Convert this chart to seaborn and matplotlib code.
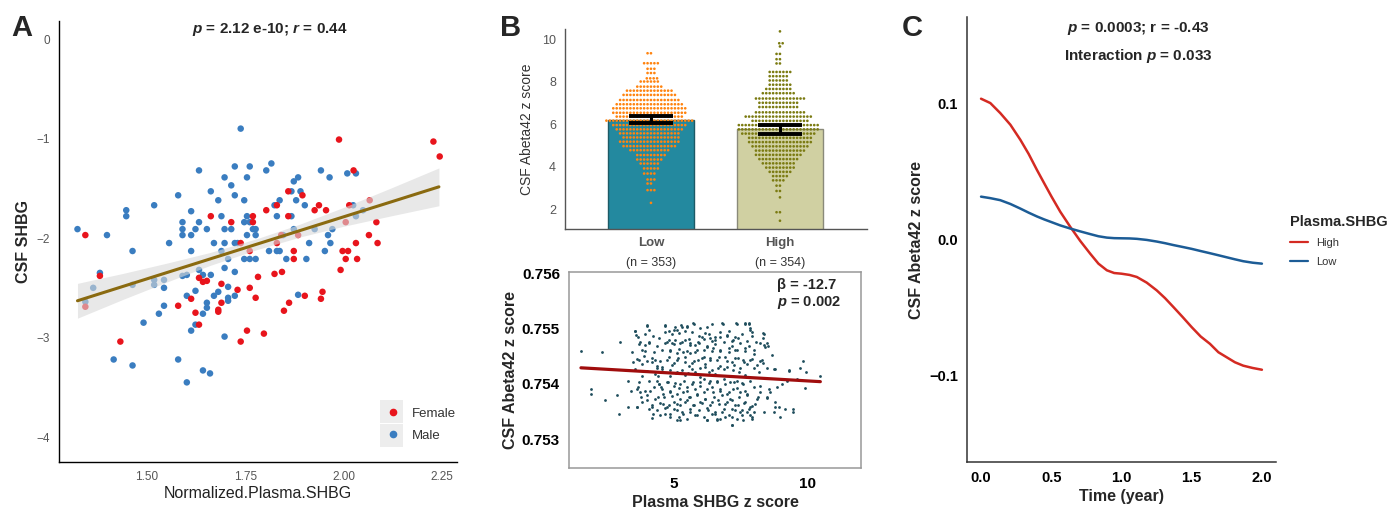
import numpy as np
import pandas as pd
import matplotlib
matplotlib.use("Agg")
import matplotlib.pyplot as plt
import seaborn as sns
from matplotlib.lines import Line2D
from matplotlib.patches import Rectangle

sns.set_style("white")
plt.rcParams["font.family"] = ["Liberation Sans", "DejaVu Sans"]
plt.rcParams["mathtext.fontset"] = "custom"
plt.rcParams["mathtext.rm"] = "Liberation Sans"
plt.rcParams["mathtext.it"] = "Liberation Sans:italic"
plt.rcParams["mathtext.bf"] = "Liberation Sans:bold"
plt.rcParams["mathtext.bfit"] = "Liberation Sans:bold:italic"

# -----------------------------
# Panel A data
# -----------------------------
male_x = [1.323, 1.398, 1.380, 1.363, 1.343, 1.447, 1.447, 1.463, 1.463, 1.518, 1.518, 1.518,
          1.543, 1.543, 1.543, 1.530, 1.491, 1.556, 1.579, 1.590, 1.590, 1.590, 1.590, 1.601,
          1.612, 1.612, 1.612, 1.623, 1.632, 1.632, 1.632, 1.623, 1.601, 1.612, 1.623, 1.579,
          1.601, 1.642, 1.660, 1.463, 1.415, 1.642, 1.642, 1.652, 1.652, 1.652, 1.662, 1.662,
          1.670, 1.670, 1.681, 1.681, 1.689, 1.689, 1.697, 1.697, 1.697, 1.697, 1.697, 1.706,
          1.706, 1.706, 1.706, 1.714, 1.714, 1.723, 1.723, 1.723, 1.723, 1.723, 1.730, 1.738,
          1.747, 1.747, 1.747, 1.754, 1.754, 1.754, 1.761, 1.761, 1.761, 1.769, 1.776, 1.776,
          1.776, 1.803, 1.816, 1.810, 1.830, 1.830, 1.837, 1.837, 1.824, 1.854, 1.867, 1.867,
          1.873, 1.873, 1.884, 1.879, 1.890, 1.901, 1.884, 1.905, 1.912, 1.926, 1.942, 1.952,
          1.960, 1.964, 1.966, 1.971, 2.009, 2.024, 2.031, 2.031, 2.049, 1.846]
male_y = [-1.91, -1.97, -2.35, -2.50, -2.64, -1.72, -1.78, -2.13, -2.47, -1.67, -2.42, -2.47,
          -2.42, -2.50, -2.68, -2.76, -2.85, -2.05, -1.57, -1.84, -1.91, -1.97, -2.38, -2.37,
          -1.73, -1.97, -2.13, -1.91, -1.32, -1.84, -2.32, -2.53, -2.58, -2.93, -2.87, -3.22,
          -3.45, -3.33, -3.36, -3.28, -3.22, -2.37, -2.76, -1.91, -2.65, -2.70, -2.37, -1.53,
          -2.05, -2.58, -1.62, -2.54, -1.78, -2.13, -1.39, -1.91, -2.05, -2.30, -2.99, -2.21,
          -2.49, -2.60, -2.63, -1.47, -1.91, -1.28, -1.57, -2.05, -2.34, -2.58, -2.05, -0.90,
          -1.62, -1.84, -2.21, -1.39, -1.78, -1.97, -1.28, -1.84, -2.21, -1.91, -1.91, -1.97,
          -2.21, -1.32, -1.25, -2.13, -1.78, -2.13, -1.62, -2.13, -1.67, -2.21, -1.53, -1.78,
          -1.43, -1.91, -1.39, -1.62, -1.53, -1.67, -2.57, -2.21, -2.05, -1.91, -1.32, -2.13,
          -1.97, -1.39, -2.05, -1.91, -1.35, -1.67, -1.35, -1.78, -1.72, -1.97]
female_x = [1.343, 1.380, 1.343, 1.432, 1.579, 1.612, 1.623, 1.632, 1.632, 1.642, 1.652, 1.662,
            1.681, 1.681, 1.689, 1.689, 1.714, 1.730, 1.738, 1.738, 1.754, 1.761, 1.761, 1.769,
            1.769, 1.776, 1.782, 1.797, 1.803, 1.824, 1.830, 1.830, 1.841, 1.843, 1.848, 1.859,
            1.859, 1.861, 1.873, 1.873, 1.884, 1.895, 1.901, 1.926, 1.937, 1.955, 1.942, 1.946,
            1.988, 1.992, 1.997, 2.005, 2.005, 2.011, 2.014, 2.025, 2.031, 2.034, 2.066, 2.064,
            2.083, 2.086, 2.228, 2.244]
female_y = [-1.97, -2.38, -2.69, -3.04, -2.68, -2.61, -2.75, -2.87, -2.40, -2.44, -2.43, -1.78,
            -2.72, -2.74, -2.46, -2.65, -1.84, -2.52, -2.05, -3.04, -2.93, -2.13, -2.50, -1.78,
            -1.84, -2.60, -2.39, -2.96, -1.72, -2.36, -1.67, -2.05, -1.97, -2.34, -2.73, -1.53,
            -1.78, -2.65, -2.13, -2.21, -1.97, -1.57, -2.58, -1.72, -1.67, -1.72, -2.61, -2.54,
            -1.01, -2.32, -2.13, -1.84, -2.21, -2.13, -1.67, -1.32, -2.05, -2.21, -1.62, -1.97,
            -1.84, -2.05, -1.03, -1.18]
fit_x = [1.323, 1.44, 1.55, 1.66, 1.78, 1.89, 2.00, 2.12, 2.242]
fit_y = [-2.63, -2.484, -2.347, -2.21, -2.06, -1.923, -1.786, -1.637, -1.485]
fit_lo = [-2.805, -2.614, -2.442, -2.275, -2.115, -1.988, -1.881, -1.777, -1.675]
fit_hi = [-2.455, -2.354, -2.252, -2.145, -2.005, -1.858, -1.691, -1.497, -1.295]

# -----------------------------
# Panel B (top) data: swarm rows (value level, number of dots)
# -----------------------------
low_levels = [9.33, 8.86, 8.6, 8.4, 8.15, 8.0, 7.76, 7.57, 7.37, 7.13, 6.93, 6.74, 6.53, 6.35,
              6.16, 5.95, 5.75, 5.56, 5.37, 5.17, 4.96, 4.77, 4.54, 4.33, 4.14, 3.91, 3.67,
              3.39, 3.2, 2.89, 2.29]
low_counts = [2, 5, 3, 3, 4, 6, 8, 14, 16, 18, 20, 22, 22, 20, 26, 22, 20, 18, 17, 18, 16, 12,
              9, 8, 6, 5, 4, 3, 2, 3, 1]
high_levels = [10.36, 9.8, 9.65, 9.3, 9.05, 8.85, 8.45, 8.25, 8.05, 7.85, 7.65, 7.45, 7.2, 7.0,
               6.8, 6.55, 6.35, 6.15, 5.95, 5.75, 5.55, 5.35, 5.15, 4.95, 4.75, 4.55, 4.35,
               4.15, 3.95, 3.75, 3.55, 3.35, 3.1, 2.85, 2.55, 1.85, 1.45]
high_counts = [1, 2, 1, 2, 2, 2, 7, 6, 6, 7, 8, 10, 15, 12, 12, 15, 20, 17, 24, 24, 22, 19, 19,
               17, 15, 14, 12, 10, 9, 7, 5, 4, 2, 2, 1, 2, 1]
groups = ["Low", "High"]
group_n = [353, 354]
bar_means = [6.19, 5.75]
err_lo = [6.06, 5.54]
err_hi = [6.39, 5.94]

# -----------------------------
# Panel B (bottom) data
# -----------------------------
# outer / sparse part of the cloud
scat_x = [1.50, 2.28, 2.97, 1.87, 1.87, 2.41, 2.94, 3.25, 3.41, 3.45, 2.84, 3.28, 3.38, 3.60,
          3.53, 3.56, 3.72, 4.00, 4.07, 3.91, 4.07, 3.80, 3.70, 3.97, 4.16, 3.66, 3.72, 3.75,
          3.97, 4.10, 4.16, 4.22, 4.35, 4.41, 4.45, 4.29, 4.35, 4.54, 4.50, 4.60, 4.41, 4.60,
          4.66, 4.72, 4.85, 4.66, 4.82, 4.98, 5.10, 5.29, 5.50, 5.73, 4.72, 4.91, 5.04, 5.23,
          5.41, 5.60, 5.79, 5.91, 4.85, 5.10, 5.35, 5.60, 5.85, 4.72, 4.98, 5.16, 5.41, 5.66,
          5.91, 4.85, 5.07, 5.29, 5.54, 5.79, 5.98, 4.79, 4.98, 5.23, 5.48, 5.73, 5.98, 4.85,
          5.10, 5.35, 5.60, 5.85, 4.98, 5.23, 5.48, 5.73, 5.98, 5.10, 5.35, 5.60, 5.85, 5.23,
          5.48, 6.04,
          6.82, 7.33, 7.67, 7.80, 7.86, 7.92, 8.36, 8.36, 8.24, 8.49, 8.55, 8.67, 7.99, 7.67,
          7.61, 7.86, 8.30, 8.36, 8.11, 8.49, 8.80, 9.34, 9.74, 9.97, 9.83, 9.05, 9.24, 9.61,
          9.93, 10.49, 9.05, 8.86, 8.61, 8.49, 8.80, 8.93, 8.74, 8.99, 8.24, 8.17, 8.05, 7.86,
          7.99, 7.92, 9.49, 9.49, 7.17, 6.42, 6.17, 6.36, 6.54, 6.73, 6.98, 7.23, 7.42, 6.23,
          6.48, 6.73, 7.05, 7.30, 6.11, 6.36, 6.61, 6.92, 7.17, 7.42, 6.17, 6.42, 6.67, 6.98,
          7.23, 7.48, 6.11, 6.36, 6.61, 6.86, 7.11, 7.36, 7.61, 6.23, 6.48, 6.73, 6.98, 7.23,
          7.48, 7.73, 6.17, 6.42, 6.67, 6.92, 7.17, 7.42, 7.67, 6.29, 6.54, 6.79, 7.05, 7.30,
          7.55, 6.23, 6.61, 6.92, 7.36, 7.61, 7.73, 7.55]
scat_y = [0.75460, 0.75458, 0.75475, 0.75390, 0.75382, 0.75371, 0.75346, 0.75358, 0.75458,
          0.75440, 0.75380, 0.75406, 0.75387, 0.75359, 0.75496, 0.75488, 0.75476, 0.75505,
          0.75497, 0.75470, 0.75476, 0.75461, 0.75443, 0.75441, 0.75440, 0.75394, 0.75385,
          0.75376, 0.75371, 0.75387, 0.75358, 0.75346, 0.75406, 0.75415, 0.75400, 0.75443,
          0.75428, 0.75431, 0.75394, 0.75382, 0.75376, 0.75364, 0.75346, 0.75358, 0.75340,
          0.75504, 0.75496, 0.75497, 0.75498, 0.75503, 0.75503, 0.75510, 0.75476, 0.75473,
          0.75479, 0.75473, 0.75479, 0.75473, 0.75470, 0.75476, 0.75461, 0.75455, 0.75458,
          0.75455, 0.75461, 0.75443, 0.75437, 0.75446, 0.75440, 0.75437, 0.75443, 0.75425,
          0.75420, 0.75425, 0.75419, 0.75422, 0.75428, 0.75403, 0.75397, 0.75400, 0.75394,
          0.75403, 0.75397, 0.75388, 0.75382, 0.75385, 0.75376, 0.75382, 0.75367, 0.75361,
          0.75370, 0.75361, 0.75367, 0.75352, 0.75346, 0.75349, 0.75343, 0.75334, 0.75337,
          0.75485,
          0.75510, 0.75510, 0.75510, 0.75510, 0.75497, 0.75494, 0.75491, 0.75483, 0.75473,
          0.75474, 0.75468, 0.75452, 0.75461, 0.75464, 0.75443, 0.75443, 0.75443, 0.75437,
          0.75434, 0.75428, 0.75426, 0.75425, 0.75428, 0.75422, 0.75441, 0.75409, 0.75406,
          0.75409, 0.75392, 0.75415, 0.75400, 0.75394, 0.75385, 0.75376, 0.75367, 0.75358,
          0.75349, 0.75341, 0.75385, 0.75376, 0.75364, 0.75358, 0.75349, 0.75340, 0.75354,
          0.75350, 0.75325, 0.75509, 0.75491, 0.75482, 0.75479, 0.75485, 0.75488, 0.75479,
          0.75482, 0.75467, 0.75464, 0.75461, 0.75464, 0.75461, 0.75449, 0.75446, 0.75443,
          0.75449, 0.75440, 0.75446, 0.75431, 0.75425, 0.75428, 0.75431, 0.75425, 0.75428,
          0.75409, 0.75406, 0.75403, 0.75409, 0.75403, 0.75406, 0.75400, 0.75391, 0.75385,
          0.75388, 0.75382, 0.75391, 0.75385, 0.75382, 0.75373, 0.75367, 0.75370, 0.75364,
          0.75370, 0.75361, 0.75367, 0.75352, 0.75346, 0.75349, 0.75343, 0.75352, 0.75343,
          0.75334, 0.75334, 0.75340, 0.75337, 0.75334, 0.75349, 0.75352]
# dense core of the cloud
core_x = [3.98, 4.67, 5.05, 5.27, 5.49, 5.74, 5.99, 6.24, 6.83, 7.05, 7.37, 7.66, 7.81, 7.87,
          8.37, 3.55, 3.92, 4.20, 4.65, 4.92, 5.17, 5.42, 5.68, 5.93, 6.30, 6.55, 6.74, 6.99,
          7.30, 7.56, 7.93, 3.65, 4.42, 4.80, 5.55, 6.11, 6.43, 7.18, 7.74,
          3.67, 4.05, 4.36, 4.67, 4.99, 5.30, 5.61, 5.93, 6.24, 6.55, 6.87, 7.18, 7.49, 7.81,
          8.08, 8.37, 3.92, 4.23, 4.55, 4.86, 5.17, 5.49, 5.80, 6.11, 6.43, 6.74, 7.05, 7.37,
          7.68, 7.99, 8.43, 3.61, 3.86, 4.17, 4.49, 4.80, 5.11, 5.42, 5.74, 6.05, 6.36, 6.68,
          6.99, 7.30, 7.62, 7.93, 8.24, 3.80, 4.36, 4.92, 5.55, 6.18, 6.74, 7.24, 7.74, 8.75,
          3.55, 3.98, 4.55, 5.11, 5.68, 6.30, 6.87, 7.43, 7.99, 3.80, 4.30, 4.86, 5.42, 5.99,
          6.55, 7.12, 7.68, 8.18, 9.31,
          3.67, 4.05, 4.42, 4.74, 5.05, 5.36, 5.68, 5.99, 6.30, 6.62, 6.93, 7.24, 7.56, 7.87,
          8.24, 8.56, 3.61, 3.92, 4.23, 4.55, 4.86, 5.17, 5.49, 5.80, 6.11, 6.43, 6.74, 7.05,
          7.37, 7.68, 7.99, 3.98, 4.30, 4.61, 4.92, 5.24, 5.55, 5.86, 6.18, 6.49, 6.80, 7.12,
          7.43, 7.74, 8.12, 8.50, 3.80, 4.17, 4.49, 4.80, 5.11, 5.42, 5.74, 6.05, 6.36, 6.68,
          6.99, 7.30, 7.62, 7.93, 8.81, 3.61, 4.05, 4.36, 4.67, 4.99, 5.30, 5.61, 5.93, 6.24,
          6.55, 6.87, 7.18, 7.49, 7.81, 9.18, 4.49, 4.86, 5.17, 5.80, 6.11, 6.43, 6.74, 7.18,
          7.87, 8.37, 4.17, 5.11, 6.24, 6.62, 7.18, 7.93]
core_y = [0.75507, 0.75506, 0.75503, 0.75506, 0.75504, 0.75509, 0.75500, 0.75503, 0.75509,
          0.75496, 0.75509, 0.75509, 0.75509, 0.75500, 0.75490, 0.75496, 0.75490, 0.75487,
          0.75494, 0.75490, 0.75492, 0.75495, 0.75494, 0.75487, 0.75490, 0.75484, 0.75494,
          0.75487, 0.75484, 0.75490, 0.75487, 0.75484, 0.75483, 0.75480, 0.75481, 0.75481,
          0.75478, 0.75478, 0.75478,
          0.75472, 0.75474, 0.75469, 0.75474, 0.75472, 0.75475, 0.75471, 0.75474, 0.75469,
          0.75472, 0.75475, 0.75469, 0.75474, 0.75468, 0.75475, 0.75471, 0.75460, 0.75457,
          0.75462, 0.75459, 0.75463, 0.75460, 0.75457, 0.75462, 0.75459, 0.75460, 0.75457,
          0.75462, 0.75459, 0.75454, 0.75466, 0.75445, 0.75450, 0.75446, 0.75442, 0.75448,
          0.75444, 0.75448, 0.75442, 0.75446, 0.75444, 0.75448, 0.75442, 0.75446, 0.75440,
          0.75445, 0.75442, 0.75436, 0.75433, 0.75434, 0.75433, 0.75436, 0.75433, 0.75434,
          0.75436, 0.75427, 0.75427, 0.75424, 0.75426, 0.75422, 0.75427, 0.75421, 0.75426,
          0.75422, 0.75428, 0.75415, 0.75418, 0.75414, 0.75416, 0.75412, 0.75418, 0.75414,
          0.75416, 0.75421, 0.75424,
          0.75403, 0.75406, 0.75400, 0.75404, 0.75402, 0.75406, 0.75400, 0.75404, 0.75402,
          0.75406, 0.75400, 0.75404, 0.75402, 0.75406, 0.75397, 0.75391, 0.75391, 0.75388,
          0.75394, 0.75390, 0.75386, 0.75392, 0.75388, 0.75391, 0.75386, 0.75394, 0.75390,
          0.75386, 0.75392, 0.75388, 0.75394, 0.75379, 0.75373, 0.75376, 0.75378, 0.75373,
          0.75376, 0.75379, 0.75373, 0.75376, 0.75379, 0.75373, 0.75376, 0.75380, 0.75373,
          0.75374, 0.75367, 0.75362, 0.75366, 0.75361, 0.75364, 0.75367, 0.75362, 0.75366,
          0.75361, 0.75364, 0.75367, 0.75362, 0.75366, 0.75360, 0.75358, 0.75358, 0.75355,
          0.75352, 0.75356, 0.75354, 0.75350, 0.75355, 0.75352, 0.75356, 0.75350, 0.75354,
          0.75355, 0.75350, 0.75355, 0.75355, 0.75343, 0.75346, 0.75341, 0.75344, 0.75340,
          0.75346, 0.75337, 0.75340, 0.75343, 0.75349, 0.75338, 0.75334, 0.75335, 0.75337,
          0.75326, 0.75337]
reg_x = [1.5, 10.5]
reg_y = [0.75429, 0.75404]

# -----------------------------
# Panel C data
# -----------------------------
time_yr = [0, 0.066, 0.137, 0.209, 0.28, 0.339, 0.398, 0.450, 0.502, 0.564, 0.635, 0.706,
           0.777, 0.836, 0.896, 0.948, 1.0, 1.057, 1.109, 1.180, 1.251, 1.310, 1.37, 1.436,
           1.5, 1.564, 1.63, 1.690, 1.749, 1.808, 1.867, 1.934, 2.0]
high_curve = [0.1038, 0.1006, 0.0932, 0.0846, 0.0735, 0.0631, 0.0513, 0.0414, 0.0316, 0.0205,
              0.0094, -0.001, -0.0104, -0.0178, -0.0227, -0.0247, -0.0252, -0.0261, -0.0276,
              -0.0318, -0.0375, -0.0432, -0.0498, -0.0572, -0.0646, -0.0715, -0.0769, -0.0831,
              -0.0868, -0.0905, -0.093, -0.0947, -0.096]
low_curve = [0.0316, 0.0305, 0.029, 0.0262, 0.0228, 0.0198, 0.017, 0.0148, 0.0128, 0.0104,
             0.0081, 0.006, 0.004, 0.0024, 0.0014, 0.001, 0.0009, 0.0008, 0.0005, -0.0003,
             -0.0015, -0.0027, -0.0041, -0.0055, -0.0069, -0.0085, -0.0101, -0.0116, -0.0131,
             -0.0146, -0.016, -0.0171, -0.0178]

fig = plt.figure(figsize=(13.98, 5.12), dpi=100)

# -----------------------------
# Panel A
# -----------------------------
axA = fig.add_axes([0.0422, 0.0977, 0.2847, 0.861])
dfA = pd.DataFrame({
    "x": male_x + female_x,
    "y": male_y + female_y,
    "sex": ["Male"] * len(male_x) + ["Female"] * len(female_x),
})
pal_sex = {"Female": "#e8141c", "Male": "#3a7dc0"}
sns.scatterplot(data=dfA, x="x", y="y", hue="sex", palette=pal_sex, s=22,
                linewidth=0, legend=False, ax=axA, zorder=2)
axA.fill_between(fit_x, fit_lo, fit_hi, color="#d9d9d9", alpha=0.6, lw=0, zorder=3)
axA.plot(fit_x, fit_y, color="#8a6a10", lw=2.2, zorder=4)
axA.set_xlim(1.276, 2.288)
axA.set_ylim(-4.25, 0.18)
axA.set_xticks([1.5, 1.75, 2.0, 2.25])
axA.set_xticklabels(["1.50", "1.75", "2.00", "2.25"])
axA.set_yticks([0, -1, -2, -3, -4])
axA.tick_params(colors="#555555", labelsize=8.5, length=3, width=0.8, labelcolor="#555555")
for side in ["top", "right"]:
    axA.spines[side].set_visible(False)
for side in ["left", "bottom"]:
    axA.spines[side].set_color("black")
    axA.spines[side].set_linewidth(1.0)
axA.set_xlabel("Normalized.Plasma.SHBG", fontsize=11.5, color="#222222", labelpad=2)
axA.set_ylabel("CSF SHBG", fontsize=11.5, fontweight="bold", labelpad=4)
axA.text(0.53, 0.982, r"$\mathbfit{p}$ = 2.12 e-10; $\mathbfit{r}$ = 0.44",
         transform=axA.transAxes, ha="center", va="center", fontsize=11, fontweight="bold")
# legend with grey key boxes
for yb in [0.034, 0.0884]:
    axA.add_patch(Rectangle((0.806, yb), 0.058, 0.052, transform=axA.transAxes,
                            facecolor="#ededed", edgecolor="none", zorder=5))
handlesA = [Line2D([], [], marker="o", ls="", color=pal_sex[k], markersize=4.5) for k in ["Female", "Male"]]
legA = axA.legend(handlesA, ["Female", "Male"], loc="lower left", bbox_to_anchor=(0.795, 0.025),
                  frameon=False, fontsize=9.5, handletextpad=0.9, labelspacing=0.75,
                  handlelength=1.2, borderpad=0.2)
for t in legA.get_texts():
    t.set_color("#333333")

# -----------------------------
# Panel B top
# -----------------------------
axB1 = fig.add_axes([0.4041, 0.5527, 0.216, 0.3906])
dfB = pd.DataFrame({
    "group": ["Low"] * sum(low_counts) + ["High"] * sum(high_counts),
    "value": list(np.repeat(low_levels, low_counts)) + list(np.repeat(high_levels, high_counts)),
})
dfBar = pd.DataFrame({"group": groups, "mean": bar_means})
sns.barplot(data=dfBar, x="group", y="mean", order=groups, hue="group",
            palette={"Low": "#0e96b4", "High": "#d8d89a"}, width=0.667, errorbar=None,
            legend=False, ax=axB1, zorder=1)
for bar, ec in zip(axB1.patches, ["#1d5a66", "#8a8a7a"]):
    bar.set_edgecolor(ec)
    bar.set_linewidth(1.0)
# invisible edge widens the swarm spacing without enlarging the dots
sns.swarmplot(data=dfB, x="group", y="value", order=groups, hue="group",
              palette={"Low": "#ff8410", "High": "#7b7b12"}, size=1.9, linewidth=0.45,
              edgecolor="none", legend=False, ax=axB1, zorder=3)
yerr = [[m - lo for m, lo in zip(bar_means, err_lo)], [hi - m for m, hi in zip(bar_means, err_hi)]]
axB1.errorbar([0, 1], bar_means, yerr=yerr, fmt="none", ecolor="black", elinewidth=2.2,
              capsize=15.5, capthick=2.8, zorder=4)
axB1.set_xlim(-0.667, 1.674)
axB1.set_ylim(1.06, 10.47)
axB1.set_yticks([2, 4, 6, 8, 10])
axB1.set_xticks([0, 1])
axB1.set_xticklabels(groups, fontweight="bold", fontsize=9.5, color="#222222")
for i, n in enumerate(group_n):
    axB1.text(i, -0.14, "(n = %d)" % n, transform=axB1.get_xaxis_transform(),
              ha="center", va="top", fontsize=9, color="#333333")
axB1.tick_params(axis="y", colors="#555555", labelsize=9, length=3, width=0.9)
axB1.tick_params(axis="x", colors="#555555", length=3, width=0.9, pad=3)
for side in ["top", "right"]:
    axB1.spines[side].set_visible(False)
for side in ["left", "bottom"]:
    axB1.spines[side].set_color("#555555")
    axB1.spines[side].set_linewidth(1.0)
axB1.set_xlabel("")
axB1.set_ylabel("CSF Abeta42 z score", fontsize=10, color="#333333", labelpad=6)

# -----------------------------
# Panel B bottom
# -----------------------------
axB2 = fig.add_axes([0.407, 0.0859, 0.2089, 0.3828])
sns.scatterplot(x=scat_x + core_x, y=scat_y + core_y, color="#1e4d5c", s=4, linewidth=0,
                ax=axB2, zorder=2)
axB2.plot(reg_x, reg_y, color="#a00d0d", lw=2.3, zorder=3)
axB2.set_xlim(1.05, 12.03)
axB2.set_ylim(0.75248, 0.75602)
axB2.set_xticks([5, 10])
axB2.set_yticks([0.753, 0.754, 0.755, 0.756])
axB2.set_yticklabels(["0.753", "0.754", "0.755", "0.756"])
axB2.tick_params(labelsize=11, length=3, width=0.9, colors="#888888", labelcolor="black")
for t in axB2.get_xticklabels() + axB2.get_yticklabels():
    t.set_fontweight("bold")
for side in axB2.spines.values():
    side.set_color("#999999")
    side.set_linewidth(1.1)
axB2.set_xlabel("Plasma SHBG z score", fontsize=11.5, fontweight="bold", labelpad=3)
axB2.set_ylabel("CSF Abeta42 z score", fontsize=11.5, fontweight="bold", labelpad=3)
axB2.text(0.712, 0.934, "β = -12.7", transform=axB2.transAxes, fontsize=10.5,
          fontweight="bold", va="center")
axB2.text(0.712, 0.847, r"$\mathbfit{p}$ = 0.002", transform=axB2.transAxes, fontsize=10.5,
          fontweight="bold", va="center")

# -----------------------------
# Panel C
# -----------------------------
axC = fig.add_axes([0.6917, 0.0977, 0.221, 0.869])
dfC = pd.DataFrame({
    "time": time_yr + time_yr,
    "value": high_curve + low_curve,
    "group": ["High"] * len(time_yr) + ["Low"] * len(time_yr),
})
pal_c = {"High": "#d42a22", "Low": "#1c5c96"}
sns.lineplot(data=dfC, x="time", y="value", hue="group", hue_order=["High", "Low"],
             palette=pal_c, lw=1.8, legend=False, ax=axC)
axC.set_xlim(-0.1, 2.1)
axC.set_ylim(-0.164, 0.164)
axC.set_xticks([0, 0.5, 1.0, 1.5, 2.0])
axC.set_xticklabels(["0.0", "0.5", "1.0", "1.5", "2.0"])
axC.set_yticks([0.1, 0.0, -0.1])
axC.set_yticklabels(["0.1", "0.0", "\u22120.1"])
axC.tick_params(labelsize=10.5, length=3, width=0.9, colors="#333333", labelcolor="black")
for t in axC.get_xticklabels() + axC.get_yticklabels():
    t.set_fontweight("bold")
for side in ["top", "right"]:
    axC.spines[side].set_visible(False)
for side in ["left", "bottom"]:
    axC.spines[side].set_color("#333333")
    axC.spines[side].set_linewidth(1.1)
axC.set_xlabel("Time (year)", fontsize=11.5, fontweight="bold", labelpad=3)
axC.set_ylabel("CSF Abeta42 z score", fontsize=11.5, fontweight="bold", labelpad=4)
axC.text(0.553, 0.975, r"$\mathbfit{p}$ = 0.0003; r = -0.43", transform=axC.transAxes,
         ha="center", va="center", fontsize=11, fontweight="bold")
axC.text(0.553, 0.912, r"Interaction $\mathbfit{p}$ = 0.033", transform=axC.transAxes,
         ha="center", va="center", fontsize=11, fontweight="bold")
handlesC = [Line2D([], [], color=pal_c[k], lw=1.6) for k in ["High", "Low"]]
legC = axC.legend(handlesC, ["High", "Low"], title="Plasma.SHBG", loc="upper left",
                  bbox_to_anchor=(0.917, 0.595), bbox_transform=fig.transFigure,
                  frameon=False, fontsize=8, title_fontsize=10.5, handlelength=1.6,
                  handletextpad=0.8, labelspacing=0.8, alignment="left", borderpad=0.2)
legC.get_title().set_fontweight("bold")
for t in legC.get_texts():
    t.set_color("#333333")

# panel letters
fig.text(0.008, 0.945, "A", fontsize=21, fontweight="bold", va="center")
fig.text(0.358, 0.945, "B", fontsize=21, fontweight="bold", va="center")
fig.text(0.645, 0.945, "C", fontsize=21, fontweight="bold", va="center")

fig.savefig("out.png", dpi=100)
plt.close()
